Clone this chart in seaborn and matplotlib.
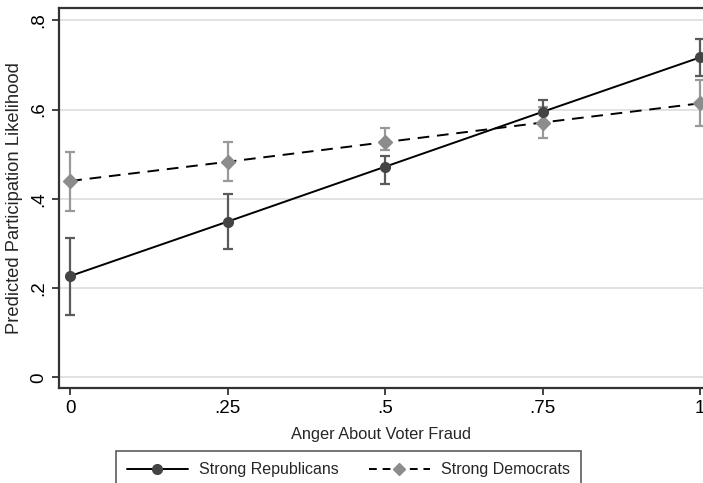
import numpy as np
import pandas as pd
import seaborn as sns
import matplotlib.pyplot as plt
from matplotlib.lines import Line2D

anger = [0, 0.25, 0.5, 0.75, 1]
rep_mean = [0.227, 0.349, 0.472, 0.595, 0.717]
rep_low = [0.139, 0.287, 0.434, 0.567, 0.675]
rep_high = [0.313, 0.410, 0.497, 0.621, 0.758]
dem_mean = [0.440, 0.483, 0.527, 0.571, 0.614]
dem_low = [0.373, 0.439, 0.510, 0.537, 0.563]
dem_high = [0.506, 0.528, 0.558, 0.605, 0.666]

sns.set_theme(style="white")
plt.rcParams['font.family'] = ['Liberation Sans', 'DejaVu Sans']

df = pd.DataFrame({
    'anger': anger * 2,
    'pred': rep_mean + dem_mean,
    'group': ['Strong Republicans'] * 5 + ['Strong Democrats'] * 5,
})

fig = plt.figure(figsize=(7.03, 4.83), dpi=100)
ax = fig.add_axes([0.0839, 0.1967, 0.9161, 0.7867])

rep_err = [np.array(rep_mean) - np.array(rep_low), np.array(rep_high) - np.array(rep_mean)]
dem_err = [np.array(dem_mean) - np.array(dem_low), np.array(dem_high) - np.array(dem_mean)]

ax.errorbar(anger, dem_mean, yerr=dem_err, fmt='none', ecolor='#999999', elinewidth=1.6,
            capsize=3.5, capthick=1.6, zorder=2)
ax.errorbar(anger, rep_mean, yerr=rep_err, fmt='none', ecolor='#5a5a5a', elinewidth=1.6,
            capsize=3.5, capthick=1.6, zorder=2)

sub = df[df['group'] == 'Strong Democrats']
sns.lineplot(x='anger', y='pred', data=sub, ax=ax, color='black', linestyle=(0, (6, 4)),
             linewidth=1.4, zorder=3, legend=False)
ax.plot(anger, dem_mean, linestyle='none', marker='D', markersize=7, color='#8c8c8c', zorder=4)

sub = df[df['group'] == 'Strong Republicans']
sns.lineplot(x='anger', y='pred', data=sub, ax=ax, color='black', linewidth=1.4, zorder=3, legend=False)
ax.plot(anger, rep_mean, linestyle='none', marker='o', markersize=7, color='#444444', zorder=4)

ax.set_xlim(-0.018, 1.0045)
ax.set_ylim(-0.024, 0.8276)
ax.set_xticks(anger)
ax.set_xticklabels(['0', '.25', '.5', '.75', '1'])
ax.set_yticks([0, 0.2, 0.4, 0.6, 0.8])
ax.set_yticklabels(['0', '.2', '.4', '.6', '.8'], rotation=90, va='center')
ax.tick_params(axis='both', direction='out', length=5, width=1.2, color='#222222',
               labelsize=13.5, labelcolor='black', bottom=True, left=True)
ax.yaxis.grid(True, color='#dddddd', linewidth=1.2)
ax.set_axisbelow(True)

for side in ['left', 'bottom', 'top']:
    ax.spines[side].set_color('#333333')
    ax.spines[side].set_linewidth(1.6)
ax.spines['right'].set_visible(False)

ax.set_xlabel('Anger About Voter Fraud', fontsize=11.8, labelpad=7)
ax.set_ylabel('Predicted Participation Likelihood', fontsize=13.2, labelpad=5)

handles = [
    Line2D([], [], color='black', linewidth=1.4, marker='o', markersize=7,
           markerfacecolor='#444444', markeredgecolor='#444444'),
    Line2D([], [], color='black', linewidth=1.4, linestyle=(0, (4, 3)), marker='D', markersize=6,
           markerfacecolor='#8c8c8c', markeredgecolor='#8c8c8c'),
]
leg = fig.legend(handles, ['Strong Republicans', 'Strong Democrats'], loc='upper center',
                 bbox_to_anchor=(0.4957, 0.0663), ncol=2, frameon=True, fancybox=False,
                 fontsize=11.5, handlelength=3.8, handletextpad=0.7, columnspacing=1.9,
                 borderpad=0.7, borderaxespad=0)
leg.get_frame().set_edgecolor('#333333')
leg.get_frame().set_linewidth(1.2)

fig.savefig('out.png', dpi=100)
